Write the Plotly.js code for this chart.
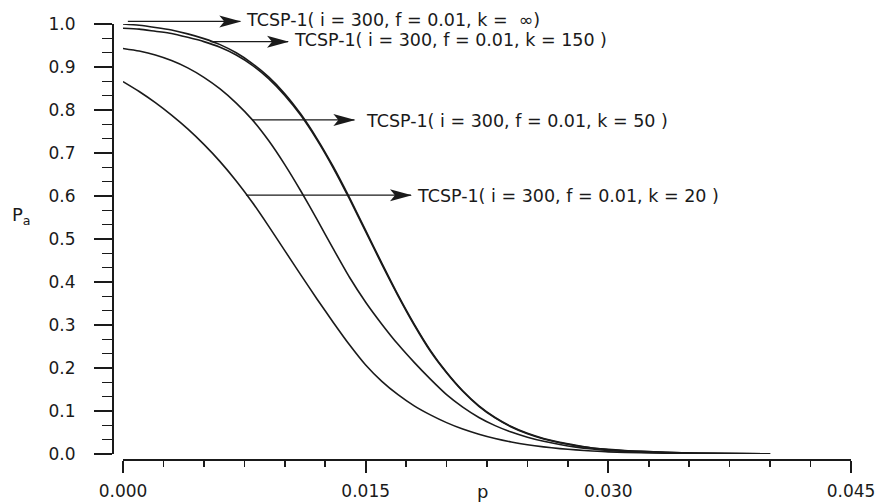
<!DOCTYPE html>
<html>
<head>
<meta charset="utf-8">
<script src="https://cdn.plot.ly/plotly-3.0.1.min.js"></script>
<style>
  html, body { margin: 0; padding: 0; background: #fff; }
  #chart { width: 877px; height: 502px; }
</style>
</head>
<body>
<div id="chart"></div>
<script>
// Fraction defective p
const p = [0.000, 0.001, 0.002, 0.003, 0.004, 0.005, 0.006, 0.007, 0.008, 0.009,
           0.010, 0.011, 0.012, 0.013, 0.014, 0.015, 0.016, 0.017, 0.018, 0.019,
           0.020, 0.021, 0.022, 0.023, 0.024, 0.025, 0.026, 0.027, 0.028, 0.029,
           0.030, 0.032, 0.035, 0.040];

// Probability of acceptance Pa for TCSP-1 (i = 300, f = 0.01) at several k
const paKInf = [1.000, 0.997, 0.992, 0.986, 0.977, 0.966, 0.952, 0.933, 0.908, 0.877,
                0.838, 0.790, 0.733, 0.668, 0.596, 0.520, 0.444, 0.370, 0.302, 0.241,
                0.190, 0.147, 0.112, 0.085, 0.064, 0.048, 0.036, 0.027, 0.020, 0.014,
                0.011, 0.006, 0.002, 0.0005];
const paK150 = [0.990, 0.988, 0.983, 0.978, 0.969, 0.959, 0.946, 0.928, 0.904, 0.873,
                0.834, 0.787, 0.730, 0.665, 0.593, 0.517, 0.441, 0.368, 0.300, 0.239,
                0.189, 0.146, 0.111, 0.084, 0.063, 0.047, 0.035, 0.026, 0.019, 0.014,
                0.010, 0.006, 0.002, 0.0005];
const paK50  = [0.943, 0.937, 0.928, 0.915, 0.898, 0.876, 0.849, 0.816, 0.777, 0.729,
                0.673, 0.611, 0.545, 0.477, 0.411, 0.353, 0.302, 0.255, 0.213, 0.174,
                0.138, 0.109, 0.085, 0.066, 0.051, 0.039, 0.0295, 0.022, 0.016, 0.0115,
                0.008, 0.004, 0.0015, 0.0004];
const paK20  = [0.866, 0.843, 0.817, 0.788, 0.756, 0.720, 0.680, 0.635, 0.585, 0.530,
                0.473, 0.416, 0.360, 0.306, 0.254, 0.207, 0.169, 0.138, 0.112, 0.091,
                0.073, 0.058, 0.046, 0.036, 0.028, 0.0215, 0.0165, 0.0125, 0.0095, 0.007,
                0.005, 0.003, 0.0015, 0.0005];

// Curve labels
const curveLabels = [
  'TCSP-1( i = 300, f = 0.01, k =  \u221E)',
  'TCSP-1( i = 300, f = 0.01, k = 150 )',
  'TCSP-1( i = 300, f = 0.01, k = 50 )',
  'TCSP-1( i = 300, f = 0.01, k = 20 )'
];

// Axis ticks
const xTickVals = [0, 0.015, 0.030, 0.045];
const xTickText = ['0.000', '0.015', '0.030', '0.045'];
const yTickVals = [0, 0.1, 0.2, 0.3, 0.4, 0.5, 0.6, 0.7, 0.8, 0.9, 1.0];
const yTickText = ['0.0', '0.1', '0.2', '0.3', '0.4', '0.5', '0.6', '0.7', '0.8', '0.9', '1.0'];

const xRange = [0, 0.045];
const yRange = [0, 1];
const ink = '#1a1a1a';
const labelFont = { family: 'DejaVu Sans', size: 17.5, color: ink };

// Arrow callouts: tail point on the curve, arrow tip, label start (data units)
const callouts = [
  { y: 1.006, tail: 0.0003, tip: 0.00725, textX: 0.00745, textY: 1.010 },
  { y: 0.959, tail: 0.0054, tip: 0.0102,  textX: 0.01045, textY: 0.962 },
  { y: 0.777, tail: 0.0080, tip: 0.0143,  textX: 0.01490, textY: 0.774 },
  { y: 0.602, tail: 0.0076, tip: 0.0178,  textX: 0.01805, textY: 0.601 }
];

const series = [paKInf, paK150, paK50, paK20];
const traces = series.map((ys, i) => ({
  type: 'scatter',
  mode: 'lines',
  x: p,
  y: ys,
  name: curveLabels[i],
  line: { color: ink, width: 1.6, shape: 'spline', smoothing: 0.6 },
  hoverinfo: 'x+y+name'
}));

// domain-fraction helpers so callouts near the top edge are neither clipped nor hidden
const fx = v => (v - xRange[0]) / (xRange[1] - xRange[0]);
const fy = v => (v - yRange[0]) / (yRange[1] - yRange[0]);

const shapes = [];
const annotations = [];
callouts.forEach((c, i) => {
  shapes.push({
    type: 'line', xref: 'x domain', yref: 'y domain',
    x0: fx(c.tail), x1: fx(c.tip), y0: fy(c.y), y1: fy(c.y),
    line: { color: ink, width: 1.2 }
  });
  shapes.push({
    type: 'path', xref: 'x domain', yref: 'y domain',
    xsizemode: 'pixel', ysizemode: 'pixel',
    xanchor: fx(c.tip), yanchor: fy(c.y),
    path: 'M1,0L-21,6L-16,0L-21,-6Z',
    fillcolor: ink, line: { width: 0 }
  });
  annotations.push({
    xref: 'x domain', yref: 'y domain', x: fx(c.textX), y: fy(c.textY),
    xanchor: 'left', yanchor: 'middle', showarrow: false,
    text: curveLabels[i],
    font: labelFont
  });
});

annotations.push({
  xref: 'paper', yref: 'paper', x: 0.5, y: -0.072,
  xanchor: 'center', yanchor: 'middle', showarrow: false,
  text: 'p', font: { family: 'DejaVu Sans', size: 18, color: ink }
});
annotations.push({
  xref: 'paper', yref: 'paper', x: -0.124, y: 0.56,
  xanchor: 'center', yanchor: 'middle', showarrow: false,
  text: 'P<sub>a</sub>', font: { family: 'DejaVu Sans', size: 18, color: ink }
});

const layout = {
  width: 877,
  height: 502,
  margin: { l: 113, r: 26, t: 24, b: 42, pad: 0 },
  paper_bgcolor: '#ffffff',
  plot_bgcolor: '#ffffff',
  showlegend: false,
  font: { family: 'DejaVu Sans', size: 17, color: ink },
  xaxis: {
    domain: [10 / 738, 1],
    range: xRange,
    anchor: 'free',
    position: 0,
    showline: true, linewidth: 2, linecolor: ink,
    showgrid: false, zeroline: false,
    ticks: 'outside', ticklen: 12, tickwidth: 2, tickcolor: ink,
    tickmode: 'array', tickvals: xTickVals, ticktext: xTickText,
    ticklabelstandoff: 4,
    tickfont: { family: 'DejaVu Sans', size: 17, color: ink },
    minor: { tickmode: 'linear', tick0: 0, dtick: 0.0025, ticks: 'outside',
             ticklen: 6, tickwidth: 1.5, tickcolor: ink, showgrid: false }
  },
  yaxis: {
    domain: [6 / 436, 1],
    range: yRange,
    anchor: 'free',
    position: 0,
    showline: true, linewidth: 2, linecolor: ink,
    showgrid: false, zeroline: false,
    ticks: 'outside', ticklen: 18, tickwidth: 2, tickcolor: ink,
    tickmode: 'array', tickvals: yTickVals, ticktext: yTickText,
    ticklabelstandoff: 15,
    tickfont: { family: 'DejaVu Sans', size: 17, color: ink },
    minor: { tickmode: 'linear', tick0: 0, dtick: 1 / 30, ticks: 'outside',
             ticklen: 10, tickwidth: 1.5, tickcolor: ink, showgrid: false }
  },
  shapes: shapes,
  annotations: annotations
};

Plotly.newPlot('chart', traces, layout, { displayModeBar: false, staticPlot: true });
</script>
</body>
</html>
